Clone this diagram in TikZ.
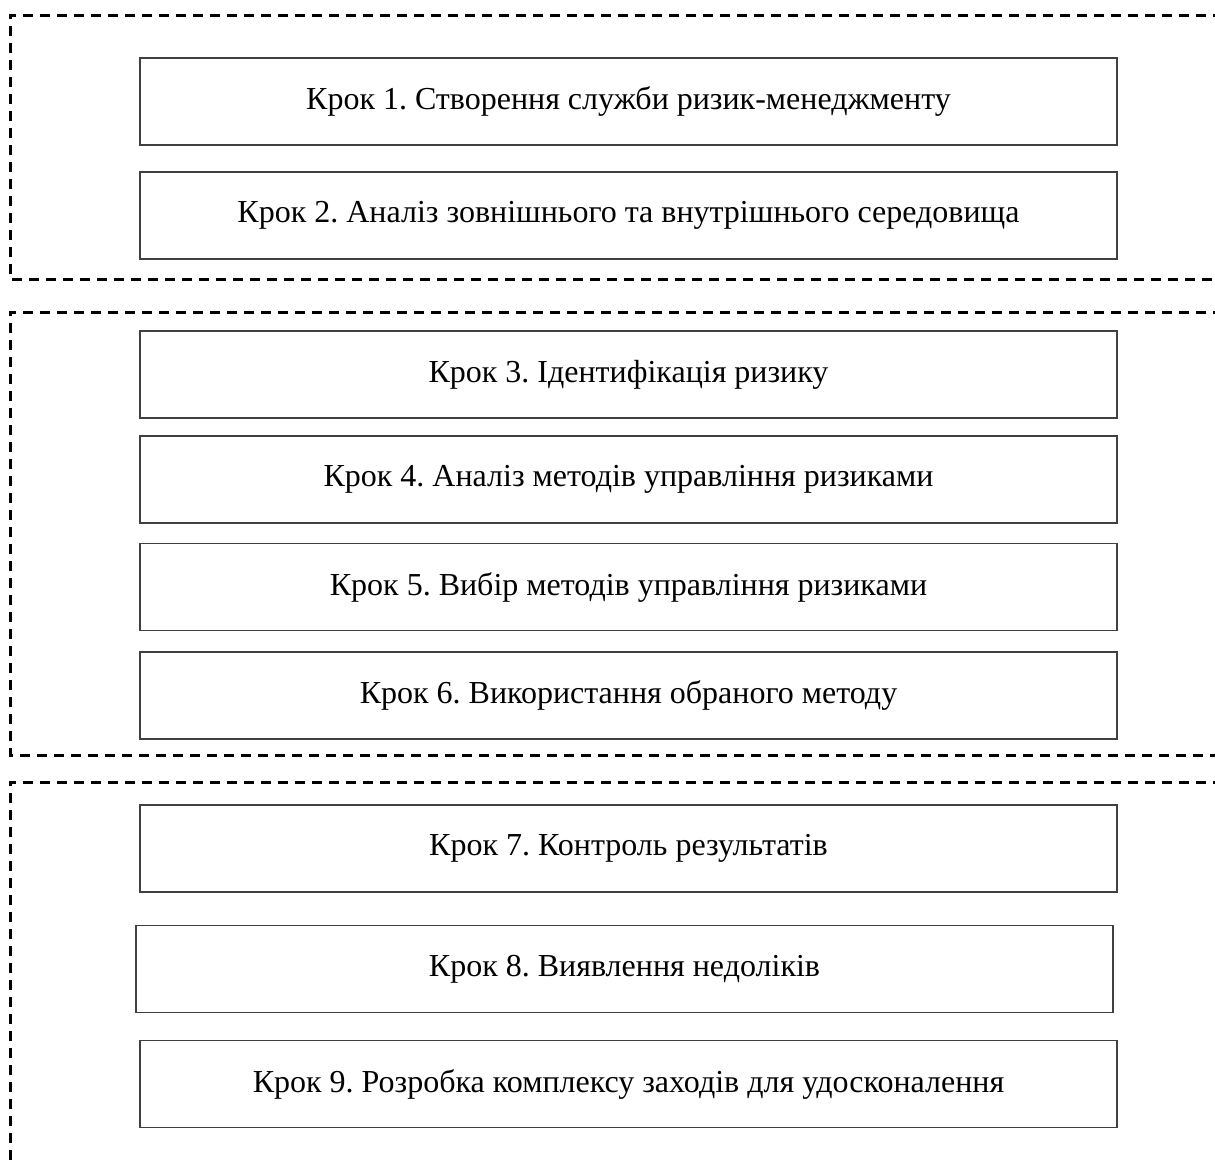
\documentclass[tikz,border=0pt]{standalone}
\usepackage{fontspec}
\setmainfont{Liberation Serif}
\usepackage{tikz}
\usetikzlibrary{positioning}
\frenchspacing

\begin{document}
\begin{tikzpicture}[
    x=1pt, y=-1pt,
    stepbox/.style={draw=black!75, line width=1.3pt, outer sep=0pt, minimum width=977pt, minimum height=87pt, align=center, font=\fontsize{32}{36}\selectfont},
    frame/.style={draw, dashed, line width=3pt, dash pattern=on 10pt off 7pt}
]
\clip (0,0) rectangle (1215,1165);

% --- Stage 1 ---
\node[stepbox] (s1) at (628.5,101.5) {Крок 1. Створення служби ризик-менеджменту};
\node[stepbox, below=27pt of s1] (s2) {Крок 2. Аналіз зовнішнього та внутрішнього середовища};

% --- Stage 2 ---
\node[stepbox, below=72pt of s2] (s3) {Крок 3. Ідентифікація ризику};
\node[stepbox, below=18pt of s3] (s4) {Крок 4. Аналіз методів управління ризиками};
\node[stepbox, below=20.5pt of s4] (s5) {Крок 5. Вибір методів управління ризиками};
\node[stepbox, below=21.5pt of s5] (s6) {Крок 6. Використання обраного методу};

% --- Stage 3 ---
\node[stepbox, below=66pt of s6] (s7) {Крок 7. Контроль результатів};
\node[stepbox, below=33.5pt of s7, xshift=-4pt] (s8) {Крок 8. Виявлення недоліків};
\node[stepbox, below=28pt of s8, xshift=4pt] (s9) {Крок 9. Розробка комплексу заходів для удосконалення};

% dashed frames, open on the right
\draw[frame] (1240,15) -- (10,15) -- (10,279) -- (1240,279);
\draw[frame] (1240,312) -- (10,312) -- (10,755) -- (1240,755);
\draw[frame] (1240,782) -- (10,782) -- (10,1180);
\end{tikzpicture}
\end{document}
